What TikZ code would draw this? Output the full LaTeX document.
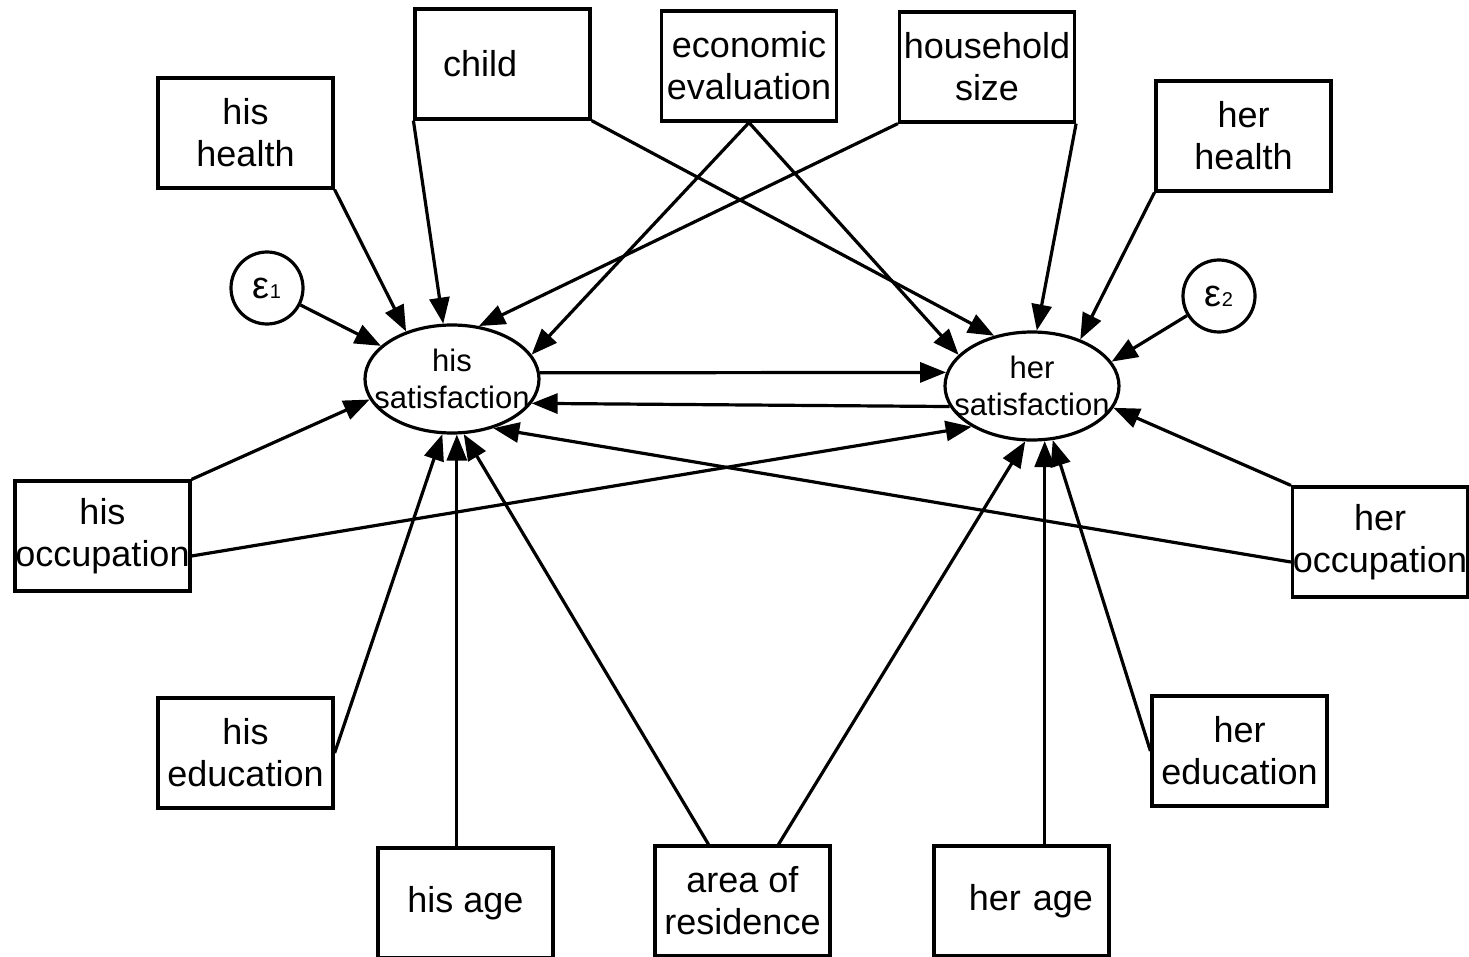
\documentclass[tikz,border=0pt]{standalone}
\usepackage{fontspec}
\setmainfont{Liberation Sans}
\usetikzlibrary{
    calc,
    arrows.meta,
    shapes.geometric
}

\begin{document}
\begin{tikzpicture}[x=1pt,y=-1pt,line width=3.2pt,
    >={Triangle[length=26pt,width=20pt]},
    obsbox/.style={draw,rectangle,minimum width=175pt,minimum height=110pt,
        inner sep=0pt,align=center,font=\fontsize{36}{42}\selectfont},
    satnode/.style={draw,ellipse,minimum width=174pt,minimum height=108pt,
        inner sep=0pt,align=center,font=\fontsize{31}{37}\selectfont},
    errnode/.style={draw,circle,minimum size=72pt,inner sep=0pt,
        font=\fontsize{38}{38}\selectfont}]

\useasboundingbox (0,0) rectangle (1469,957);

%====================================================
% Soddisfazione di lui e di lei
%====================================================

\node[satnode] (hsat) at (452,379) {his\\\makebox[0pt]{satisfaction}};
\node[satnode] (hersat) at (1032,386) {her\\\makebox[0pt]{satisfaction}};

\node[errnode] (e1) at (267,288) {ε{\fontsize{20}{20}\selectfont 1}};
\node[errnode] (e2) at (1219,296) {ε{\fontsize{20}{20}\selectfont 2}};

%====================================================
% Variabili osservate
%====================================================

\node[obsbox] (hhealth) at (245.5,133) {his\\health};
\node[obsbox,text width=119pt,inner xsep=28pt,align=left] (child) at (502.5,64) {child};
\node[obsbox] (econ) at (749,66) {economic\\evaluation};
\node[obsbox] (house) at (987,67) {household\\size};
\node[obsbox] (herhealth) at (1243.5,136) {her\\health};

\node[obsbox] (hocc) at (102.5,536) {his\\occupation};
\node[obsbox] (herocc) at (1380,542) {her\\occupation};

\node[obsbox] (hedu) at (245.5,753) {his\\education};
\node[obsbox] (heredu) at (1239.5,751) {her\\education};

\node[obsbox] (hage) at (465.5,903) {his age};
\node[obsbox] (area) at (742.5,901) {area of\\residence};
\node[obsbox,text width=143pt,inner xsep=16pt,align=right] (herage) at (1021.5,901) {her age};

%====================================================
% Frecce
%====================================================

\draw[->] (hhealth.south east) -- (hsat.134);
\draw[->] (child.south west) -- (hsat.99);
\draw[->] (child.south east) -- (hersat.127);
\draw[->] (econ.south) -- (hsat.17);
\draw[->] (econ.south) -- (hersat.157);
\draw[->] (house.south west) -- (hsat.63);
\draw[->] (house.south east) -- (hersat.85);
\draw[->] (herhealth.south west) -- (hersat.44);

\draw[->] (e1) -- (hsat.155);
\draw[->] (e2) -- (hersat.17);

\draw[->] (hsat.4) -- (hersat.171);
\draw[->] (hersat.194) -- (hsat.343);

\draw[->] (hocc.north east) -- (hsat.194);
\draw[->] ($(hocc.east)+(0,20)$) -- (hersat.214);
\draw[->] (herocc.north west) -- (hersat.345);
\draw[->] ($(herocc.west)+(0,20)$) -- (hsat.310);

\draw[->] (hedu.east) -- (hsat.260);
\draw[->] (hsat.275 |- hage.north) -- (hsat.275);
\draw[->] ($(area.north)+(-34,0)$) -- (hsat.282);
\draw[->] ($(area.north)+(36,0)$) -- (hersat.263);
\draw[->] (hersat.283 |- herage.north) -- (hersat.283);
\draw[->] (heredu.west) -- (hersat.291);
\end{tikzpicture}
\end{document}
